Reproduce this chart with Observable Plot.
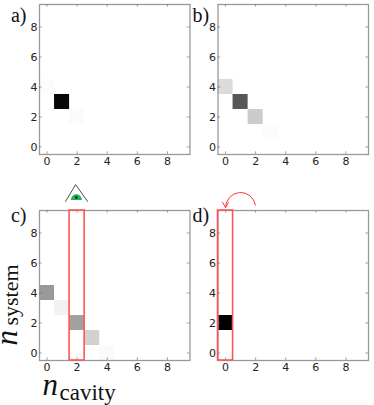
<!DOCTYPE html>
<html>
<head>
<meta charset="utf-8">
<script src="https://cdn.jsdelivr.net/npm/d3@7"></script>
<script src="https://cdn.jsdelivr.net/npm/@observablehq/plot@0.6"></script>
<style>html,body{margin:0;padding:0;background:#fff}svg{display:block}</style>
</head>
<body>
<div id="chart"></div>
<script>
const panelKeys = ["a", "b", "c", "d"];
const panelCol = {a: "left", b: "right", c: "left", d: "right"};
const panelRow = {a: "top", b: "top", c: "bottom", d: "bottom"};

const cavityA = [0, 1, 2];
const systemA = [4, 3, 2];
const weightA = [0.01, 0.97, 0.015];

const cavityB = [0, 1, 2, 3];
const systemB = [4, 3, 2, 1];
const weightB = [0.14, 0.66, 0.2, 0.01];

const cavityC = [0, 1, 2, 3, 4];
const systemC = [4, 3, 2, 1, 0];
const weightC = [0.4, 0.05, 0.37, 0.18, 0.02];

const cavityD = [0];
const systemD = [2];
const weightD = [1];

const tickValues = [0, 2, 4, 6, 8];
const panelLabels = ["a)", "b)", "c)", "d)"];
const measuredColumn = {c: 2, d: 0};

const domain = [-0.5, 9.5];

const rows = (key, cav, sys, w) => cav.map((n, i) => ({
  panel: key, fx: panelCol[key], fy: panelRow[key], n, m: sys[i], w: w[i]
}));
const cells = [
  ...rows("a", cavityA, systemA, weightA),
  ...rows("b", cavityB, systemB, weightB),
  ...rows("c", cavityC, systemC, weightC),
  ...rows("d", cavityD, systemD, weightD)
];
const highlights = Object.entries(measuredColumn).map(([k, n]) => ({fx: panelCol[k], fy: panelRow[k], n}));

// label anchors in each panel's data units
const labelX = [-2.4, -2.2, -2.4, -2.2];
const labelY = [8.73, 8.73, 9.17, 9.17];
const labelRows = panelLabels.map((t, i) => ({
  t, fx: panelCol[panelKeys[i]], fy: panelRow[panelKeys[i]], x: labelX[i], y: labelY[i]
}));

const eyeX = [1.23, 1.9, 2.7];
const eyeY = [10.1, 11.23, 10.1];
const eyeRows = eyeX.map((x, i) => ({x, y: eyeY[i], fx: "left", fy: "bottom"}));
const irisRows = [{x: 1.95, y: 10.37, fx: "left", fy: "bottom"}];
const arrowRows = [{x1: 1.99, y1: 9.87, x2: 0.0, y2: 9.7, fx: "right", fy: "bottom"}];

const axisRows = [
  {t: "n", x: -0.3, y: -2.17, size: 31, rotate: 0},
  {t: "cavity", x: 0.83, y: -2.67, size: 23, rotate: 0},
  {t: "n", x: -2.67, y: 0.5, size: 31, rotate: -90},
  {t: "system", x: -2.37, y: 1.83, size: 22, rotate: -90}
].map(d => ({...d, fx: "left", fy: "bottom"}));

const lensSymbol = {
  draw(ctx, size) {
    const r = Math.sqrt(size / Math.PI);
    ctx.moveTo(-1.3 * r, 0.6 * r);
    ctx.bezierCurveTo(-1.1 * r, -1.2 * r, 1.1 * r, -1.2 * r, 1.3 * r, 0.6 * r);
    ctx.closePath();
  }
};

const frameColor = "#999";
const tickColor = "#666";

const chart = Plot.plot({
  width: 374,
  height: 405,
  marginLeft: 39,
  marginRight: 6,
  marginTop: 4,
  marginBottom: 45,
  style: {background: "#fff", overflow: "visible"},
  x: {domain, axis: null},
  y: {domain, axis: null},
  fx: {domain: ["left", "right"], padding: 0.157, round: false, axis: null},
  fy: {domain: ["top", "bottom"], padding: 0.272, round: false, axis: null},
  color: {type: "linear", domain: [0, 1], range: ["#ffffff", "#000000"]},
  marks: [
    Plot.rect(cells, {
      x1: d => d.n - 0.5, x2: d => d.n + 0.5,
      y1: d => d.m - 0.5, y2: d => d.m + 0.5,
      fx: "fx", fy: "fy", fill: "w", inset: 0
    }),
    Plot.frame({stroke: frameColor, strokeWidth: 1.3}),
    Plot.ruleX(tickValues, {x: d => d, y1: -0.5, y2: -0.32, stroke: tickColor, strokeWidth: 0.6}),
    Plot.ruleX(tickValues, {x: d => d, y1: 9.5, y2: 9.32, stroke: tickColor, strokeWidth: 0.6}),
    Plot.ruleY(tickValues, {y: d => d, x1: -0.5, x2: -0.32, stroke: tickColor, strokeWidth: 0.6}),
    Plot.ruleY(tickValues, {y: d => d, x1: 9.5, x2: 9.32, stroke: tickColor, strokeWidth: 0.6}),
    Plot.axisX({ticks: tickValues, tickSize: 0, tickPadding: 3, facetAnchor: null, fontSize: 11,
      fontFamily: "DejaVu Sans", fill: "#222", label: null, tickFormat: d => d}),
    Plot.axisY({ticks: tickValues, tickSize: 0, tickPadding: 2, facetAnchor: null, fontSize: 11,
      fontFamily: "DejaVu Sans", fill: "#222", label: null, tickFormat: d => d}),
    Plot.rect(highlights, {
      x1: d => d.n - 0.5, x2: d => d.n + 0.5, y1: -0.5, y2: 9.5,
      fx: "fx", fy: "fy", fill: "none", stroke: "#f55", strokeWidth: 1.6
    }),
    Plot.text(labelRows, {
      x: "x", y: "y", text: "t", fx: "fx", fy: "fy", textAnchor: "start",
      fontFamily: "Liberation Serif", fontSize: 20, fill: "#111"
    }),
    Plot.line(eyeRows, {x: "x", y: "y", fx: "fx", fy: "fy", stroke: "#222", strokeWidth: 0.8}),
    Plot.dot(irisRows, {x: "x", y: "y", fx: "fx", fy: "fy", r: 4.3, symbol: lensSymbol, fill: "#22b35a", stroke: "none"}),
    Plot.dot(irisRows, {x: "x", y: "y", fx: "fx", fy: "fy", r: 1.2, fill: "#111", stroke: "none"}),
    Plot.arrow(arrowRows, {
      x1: "x1", y1: "y1", x2: "x2", y2: "y2", fx: "fx", fy: "fy",
      bend: -85, stroke: "#f33", strokeWidth: 1, headLength: 9, inset: 0
    }),
    ...axisRows.map(d => Plot.text([d], {
      x: "x", y: "y", text: "t", fx: "fx", fy: "fy", textAnchor: "start", rotate: d.rotate,
      fontFamily: "Liberation Serif", fontStyle: d.t === "n" ? "italic" : "normal",
      fontSize: d.size, fill: "#111"
    }))
  ]
});
document.getElementById("chart").append(chart);
</script>
</body>
</html>
